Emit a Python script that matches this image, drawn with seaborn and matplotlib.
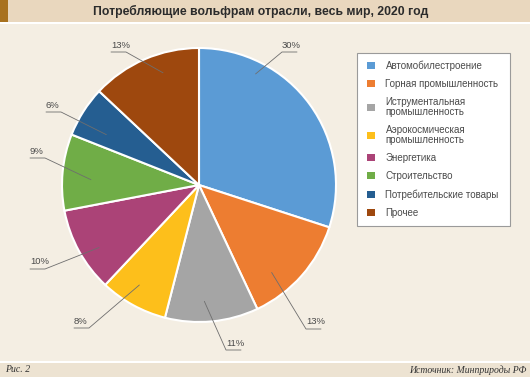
import matplotlib
matplotlib.use("Agg")
import matplotlib.pyplot as plt
import seaborn as sns
from matplotlib.patches import Rectangle, Patch
from matplotlib.legend_handler import HandlerPatch
import numpy as np

# ---- data ----
categories = ["Автомобилестроение", "Горная промышленность",
              "Иструментальная\nпромышленность", "Аэрокосмическая\nпромышленность",
              "Энергетика", "Строительство", "Потребительские товары", "Прочее"]
values = [30, 13, 11, 8, 10, 9, 6, 13]
pct_labels = ["30%", "13%", "11%", "8%", "10%", "9%", "6%", "13%"]
title = "Потребляющие вольфрам отрасли, весь мир, 2020 год"
fig_label = "Рис. 2"
source = "Источник: Минприроды РФ"

# ---- style ----
colors = sns.color_palette(["#5B9BD5", "#ED7D31", "#A5A5A5", "#FDBF1B",
                            "#AB4377", "#70AD47", "#255E91", "#9E480E"])
sns.set_style("white")
plt.rcParams["font.family"] = ["Liberation Sans", "DejaVu Sans"]

W, H = 530, 377
BG = "#F4EEE3"
fig = plt.figure(figsize=(W / 100, H / 100), dpi=100, facecolor=BG)
ax = fig.add_axes([0, 0, 1, 1])
ax.set_facecolor(BG)

cx, cy, R = 199, 185, 137
wedges, _ = ax.pie(values, colors=colors, startangle=-90, counterclock=True,
                   center=(cx, cy), radius=R, frame=True,
                   wedgeprops=dict(edgecolor="white", linewidth=1.5))
ax.set_xlim(0, W)
ax.set_ylim(H, 0)
ax.axis("off")

# label layout: fraction along wedge, radial fraction of anchor, knee point, side
anchor_t = [0.25, 0.69, 0.57, 0.57, 0.41, 0.42, 0.32, 0.62]
anchor_f = [0.91, 0.83, 0.85, 0.85, 0.86, 0.79, 0.77, 0.86]
knees = [(282, 52), (306, 329), (226, 350), (89, 328), (45, 269), (45, 158), (61, 112), (126, 52)]
sides = [1, 1, 1, -1, -1, -1, -1, -1]
ul_len = 15
for w, lab, t, f, (kx, ky), s in zip(wedges, pct_labels, anchor_t, anchor_f, knees, sides):
    ang = np.deg2rad(w.theta1 + t * (w.theta2 - w.theta1))
    axp = cx + f * R * np.cos(ang)
    ayp = cy + f * R * np.sin(ang)
    ex = kx + s * ul_len
    ax.plot([axp, kx, ex], [ayp, ky, ky], color="#6E6E6E", lw=0.6,
            solid_joinstyle="miter", zorder=5)
    tx = min(kx, ex)
    ax.text(tx, ky - 2.5, lab, ha="left", va="bottom", fontsize=6.8,
            color="#4A4A4A", zorder=6)

# title bar
ax.add_patch(Rectangle((0, 0), W, 22, facecolor="#E9D7BE", edgecolor="none", zorder=0.5, clip_on=False))
ax.add_patch(Rectangle((0, 0), 8, 22, facecolor="#A8711E", edgecolor="none", zorder=0.6, clip_on=False))
ax.add_patch(Rectangle((0, 22), W, 2, facecolor="white", edgecolor="none", zorder=0.6, clip_on=False))
ax.text(261, 11.5, title, ha="center", va="center", fontsize=8.8, color="#2B2B2B",
        fontweight="bold", family=["Liberation Sans", "DejaVu Sans"])

# footer
ax.add_patch(Rectangle((0, 361), W, 1.5, facecolor="white", edgecolor="none", zorder=0.6, clip_on=False))
ax.add_patch(Rectangle((0, 362.5), W, H - 362.5, facecolor="#EDE3D2", edgecolor="none", zorder=0.5, clip_on=False))
ax.text(5, 370, fig_label, ha="left", va="center", fontsize=7, style="italic",
        color="#333333", family=["Liberation Serif", "DejaVu Serif"])
ax.text(526, 370, source, ha="right", va="center", fontsize=7, style="italic",
        color="#333333", family=["Liberation Serif", "DejaVu Serif"])


# legend with square markers shifted right inside the handle box
def square_patch(legend, orig_handle, xdescent, ydescent, width, height, fontsize):
    s = 5.2
    return Rectangle((-xdescent + width - s, -ydescent + (height - s) / 2), s, s)


handles = [Patch(facecolor=c, edgecolor="none") for c in colors]
lx0, ly0, lw = 357, 53, 153
leg = fig.legend(handles, categories, loc="upper left",
                 bbox_to_anchor=(lx0 / W, 1 - ly0 / H, lw / W, 0.0001), mode="expand",
                 borderaxespad=0, frameon=True, fancybox=False, fontsize=7,
                 handlelength=1.05, handleheight=0.75, handletextpad=1.13,
                 labelspacing=0.85, borderpad=0.75, labelcolor="#4A4A4A",
                 handler_map={Patch: HandlerPatch(patch_func=square_patch)})
for txt in leg.get_texts():
    txt.set_linespacing(0.95)
fr = leg.get_frame()
fr.set_facecolor("white")
fr.set_edgecolor("#9A9A9A")
fr.set_linewidth(0.8)
fr.set_alpha(1)

fig.savefig("out.png", dpi=100, facecolor=BG)
